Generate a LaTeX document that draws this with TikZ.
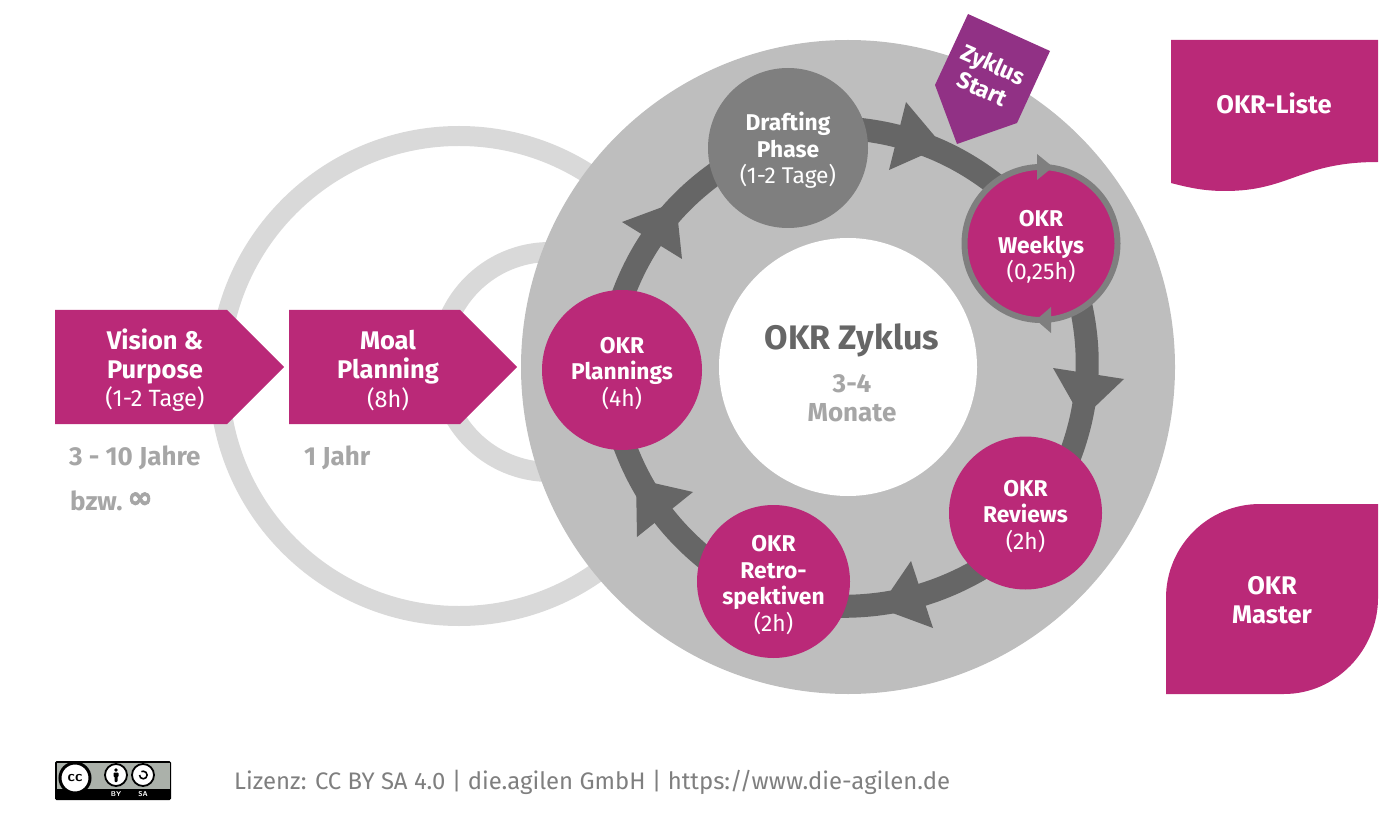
\documentclass[tikz,border=0pt]{standalone}
\usepackage{fontspec}
\setmainfont{Fira Sans}
\newfontfamily\symfont[FakeBold=3]{DejaVu Sans}
\usepackage{xcolor}
\usetikzlibrary{backgrounds, positioning}

\definecolor{okrpink}{HTML}{BA2978}
\definecolor{tagpurple}{HTML}{913185}
\definecolor{discgrey}{HTML}{BEBEBE}
\definecolor{ringgrey}{HTML}{666666}
\definecolor{midgrey}{HTML}{7F7F7F}
\definecolor{palegrey}{HTML}{D9D9D9}
\definecolor{labelgrey}{HTML}{A6A6A6}
\definecolor{badgegrey}{HTML}{ABB1AA}

\newcommand{\toppad}{\rule{0pt}{23pt}}

\tikzset{
    phase/.style={circle, fill=okrpink, text=white, inner sep=0, outer sep=0, align=center, font=\fontsize{22.8}{26.6}\selectfont\bfseries},
    title/.style={text=white, inner sep=0, align=center, font=\fontsize{25.5}{28.6}\selectfont\bfseries},
    note/.style={text=labelgrey, inner sep=0, font=\fontsize{26}{29}\selectfont\bfseries},
    pale/.style={draw=palegrey, line width=20, circle, inner sep=0, outer sep=0},
    ringline/.style={draw=ringgrey, line width=23, shorten <=-8pt, shorten >=-8pt, bend left=#1, looseness=.85},
    ringtip/.style={fill=ringgrey},
    badgering/.style={circle, draw=black, fill=white, line width=1.8, inner sep=0, outer sep=0}
}

\begin{document}
\begin{tikzpicture}[x=1pt, y=-1pt]
    \useasboundingbox (0, 0) rectangle (1400, 834);

    \node[phase, minimum size=160, fill=midgrey] (drafting) at (788, 148) {\toppad Drafting\\Phase\\{\mdseries (1-2 Tage)}};
    \node[phase, minimum size=153, draw=midgrey, line width=6] (weeklys) at (1041, 243.5) {\toppad OKR\\Weeklys\\{\mdseries (0,25h)}};
    \node[phase, minimum size=153] (reviews) at (1025.5, 513) {\toppad OKR\\Reviews\\{\mdseries (2h)}};
    \node[phase, minimum size=153] (retro) at (773.5, 581.5) {\toppad OKR\\Retro-\\spektiven\\{\mdseries (2h)}};
    \node[phase, minimum size=160] (plannings) at (622, 370) {\toppad OKR\\Plannings\\{\mdseries (4h)}};

    \begin{scope}[on background layer]
        \node[pale, minimum size=480] (yearring) at (459, 376) {};
        \node[pale, minimum size=220] (moalring) at (550, 362) {};
        \node[circle, fill=discgrey, minimum size=654, inner sep=0] (disc) at (848, 367) {};
        \node[circle, fill=white, minimum size=258, inner sep=0] (hub) at (848, 367) {};

        \draw[ringline=16.5] (drafting.13) to (weeklys.128);
        \draw[ringline=17.4] (weeklys.-58) to (reviews.53);
        \draw[ringline=15.7] (reviews.230) to (retro.-19);
        \draw[ringline=15.7] (retro.160) to (plannings.-87);
        \draw[ringline=17.6] (plannings.88) to (drafting.200);

        \fill[ringtip] (906, 102) -- (943, 146) -- (889, 170) -- cycle;
        \fill[ringtip] (1053, 368) -- (1124, 379) -- (1082, 419) -- cycle;
        \fill[ringtip] (911, 561) -- (879, 608) -- (933, 628) -- cycle;
        \fill[ringtip] (693, 492) -- (636, 479) -- (637, 537) -- cycle;
        \fill[ringtip] (622, 222) -- (676, 202) -- (682, 259) -- cycle;
    \end{scope}

    \fill[midgrey] (1037, 154) -- (1053, 167) -- (1037, 180) -- cycle;
    \fill[midgrey] (1051, 307) -- (1036, 320) -- (1051, 333) -- cycle;

    \node[inner sep=0, align=center, font=\fontsize{34}{38}\selectfont\bfseries, text=ringgrey] (cycletitle) at (852, 340) {OKR Zyklus};
    \node[note, align=center] (cycletime) at (852, 398) {3-4\\Monate};

    \fill[tagpurple] (968, 14) -- (1050, 51) -- (1017, 123) -- (957, 144) -- (935, 85) -- cycle;
    \node[text=white, inner sep=0, align=center, rotate=-24, font=\fontsize{23}{27}\selectfont\bfseries] (cyclestart) at (988, 76.5) {Zyklus\\Start};

    \fill[okrpink] (55, 310) -- (227, 310) -- (284, 367) -- (227, 424) -- (55, 424) -- cycle;
    \node[title] (vision) at (155, 370.5) {Vision \&\\Purpose\\{\mdseries\fontsize{23.5}{28.6}\selectfont (1-2 Tage)}};
    \fill[okrpink] (289, 310) -- (460, 310) -- (517, 367) -- (460, 424) -- (289, 424) -- cycle;
    \node[title] (moal) at (388, 370.5) {Moal\\Planning\\{\mdseries\fontsize{23.5}{28.6}\selectfont (8h)}};

    \node[note, anchor=west] (visiontime) at (69, 458) {3 - 10 Jahre};
    \node[note, anchor=west] (visionalt) at (70, 501) {bzw.\hspace{5pt}{\symfont\fontsize{30}{30}\selectfont\raisebox{3pt}{∞}}};
    \node[note, anchor=west] (moaltime) at (304, 458) {1 Jahr};

    \fill[okrpink] (1171, 40) -- (1378, 40) -- (1378, 162) .. controls (1300, 162) and (1290, 191) .. (1225, 191) .. controls (1205, 191) and (1190, 188) .. (1171, 183) -- cycle;
    \node[title] (liste) at (1274, 103) {OKR-Liste};
    \fill[okrpink] (1166, 694) -- (1166, 598) .. controls (1166, 546) and (1208, 504) .. (1260, 504) -- (1378, 504) -- (1378, 598) .. controls (1378, 650) and (1336, 694) .. (1284, 694) -- cycle;
    \node[title] (master) at (1272, 600) {OKR\\Master};

    \fill[black, rounded corners=1.5] (55, 761) rectangle (171, 800);
    \fill[badgegrey] (56.5, 762.5) rectangle (169.5, 789);
    \node[badgering, minimum size=30, line width=3] (cc) at (75, 778) {\fontsize{15}{15}\selectfont\bfseries\sffamily cc};
    \node[badgering, minimum size=22] (by) at (116, 775) {};
    \fill[black] (116, 770) circle [radius=1.8];
    \fill[black, rounded corners=.8] (113.5, 772.5) rectangle (118.5, 777) (114.5, 776) rectangle (117.5, 782);
    \node[badgering, minimum size=22] (sa) at (143, 775) {};
    \draw[black, line width=1.6] (139.5, 775) arc [start angle=180, end angle=-120, radius=3.8];
    \node[text=white, inner sep=0, font=\fontsize{7}{7}\selectfont\bfseries\sffamily] (bylabel) at (116, 794.5) {BY};
    \node[text=white, inner sep=0, font=\fontsize{7}{7}\selectfont\bfseries\sffamily] (salabel) at (143, 794.5) {SA};

    \node[anchor=west, inner sep=0, text=midgrey, font=\fontsize{23.9}{28}\selectfont] (licence) at (234, 782) {Lizenz: CC BY SA 4.0 | die.agilen GmbH | https://www.die-agilen.de};
\end{tikzpicture}
\end{document}
